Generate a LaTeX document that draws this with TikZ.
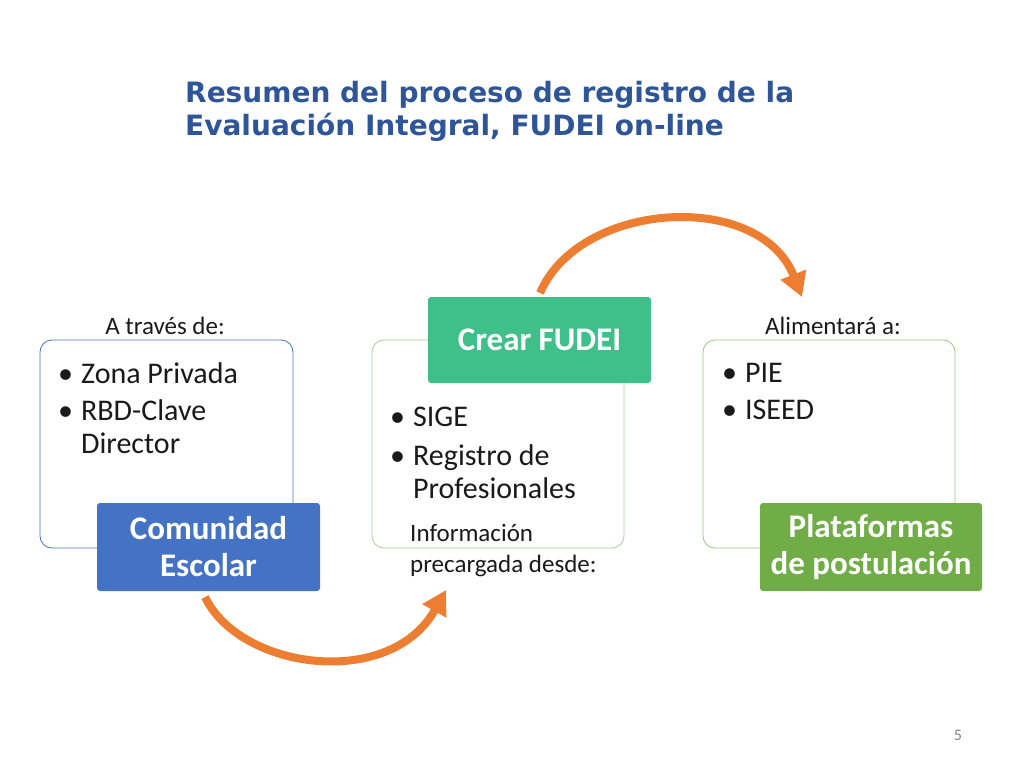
\documentclass[tikz,border=0pt]{standalone}
\usepackage{fontspec}
\setmainfont{Carlito}
\newfontfamily\titlefont{DejaVu Sans}
\usetikzlibrary{arrows.meta}
\definecolor{tblue}{HTML}{2E5597}
\definecolor{cblue}{HTML}{4472C4}
\definecolor{cteal}{HTML}{3FBF8A}
\definecolor{cgreen}{HTML}{70AD47}
\definecolor{corange}{HTML}{ED7D31}
\definecolor{txt}{HTML}{1A1A1A}
\begin{document}
\begin{tikzpicture}[x=1pt,y=-1pt,
  outer/.style={line width=0.8pt,rounded corners=12pt},
  lab/.style={rounded corners=3pt,text=white,font=\bfseries\fontsize{33}{37}\selectfont,align=center,inner sep=0pt},
  bul/.style={anchor=west,font=\fontsize{30}{33}\selectfont,text=txt,inner sep=0pt,align=left},
  small/.style={font=\fontsize{25}{31}\selectfont,text=txt,inner sep=0pt},
  arr/.style={corange,line width=8pt,-{Triangle[length=24pt,width=26pt]}}]
\useasboundingbox (0,0) rectangle (1024,768);
\node[anchor=west,inner sep=0pt,text=tblue,align=left,font=\titlefont\bfseries\fontsize{28}{33}\selectfont] (title) at (185,111) {Resumen del proceso de registro de la\\Evaluación Integral, FUDEI on-line};
% boxes
\draw[outer,draw=cblue,fill=white] (40,340) rectangle (293,548);
\draw[outer,draw=cgreen!60,fill=white] (372,340) rectangle (624,548);
\draw[outer,draw=cgreen!70,fill=white] (703,340) rectangle (955,548);
\node[lab,fill=cblue,minimum width=223pt,minimum height=88pt] (cs) at (208.5,547) {Comunidad\\Escolar};
\node[lab,fill=cteal,minimum width=223pt,minimum height=86pt] (cf) at (539.5,340) {Crear FUDEI};
\node[lab,fill=cgreen,minimum width=222pt,minimum height=88pt] (pp) at (871,547) {Plataformas\\de postulación};
% labels
\node[small] (at) at (165,326) {A través de:};
\node[small] (al) at (833,326) {Alimentará a:};
\node[small,anchor=west,align=left] (inf) at (410,551) {Información\\precargada desde:};
% bullets
\node[bul] (z) at (58,373) {•\hspace{8pt}Zona Privada};
\node[bul] (r) at (58,427) {•\hspace{8pt}RBD-Clave\\\hphantom{•\hspace{8pt}}Director};
\node[bul] (s) at (390,417) {•\hspace{8pt}SIGE};
\node[bul] (rp) at (390,472) {•\hspace{8pt}Registro de\\\hphantom{•\hspace{8pt}}Profesionales};
\node[bul] (p) at (722,373) {•\hspace{8pt}PIE};
\node[bul] (i) at (722,410) {•\hspace{8pt}ISEED};
% arrows
\coordinate (a1s) at (205,597);
\coordinate (a1e) at (446,590);
\draw[arr] (a1s) .. controls (240,670) and (390,690) .. (a1e);
\coordinate (a2s) at (540,293);
\coordinate (a2e) at (802,297);
\draw[arr] (a2s) .. controls (580,200) and (760,190) .. (a2e);
\node[font=\fontsize{16}{18}\selectfont,text=gray,inner sep=0pt] (pg) at (958,735) {5};
\end{tikzpicture}
\end{document}
